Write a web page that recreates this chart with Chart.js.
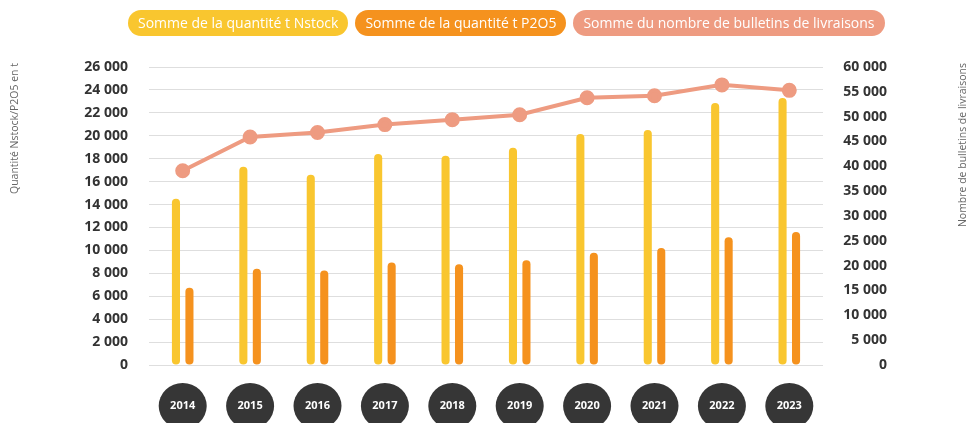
<!DOCTYPE html>
<html lang="fr">
<head>
<meta charset="utf-8">
<script src="https://cdn.jsdelivr.net/npm/chart.js@4"></script>
<style>
  html, body { margin: 0; padding: 0; background: #fff; }
  #zone { position: relative; width: 970px; height: 423px; }
  #legende { position: absolute; left: 128px; top: 10px; display: flex; gap: 7px; }
  .pastille {
    font-family: "Open Sans", sans-serif; font-size: 14px; color: #fff;
    height: 26px; line-height: 26px; padding: 0 10px; border-radius: 13px; white-space: nowrap;
  }
</style>
</head>
<body>
<div id="zone">
  <canvas id="graphique" width="970" height="423"></canvas>
  <div id="legende"></div>
</div>
<script>
const annees = ['2014', '2015', '2016', '2017', '2018', '2019', '2020', '2021', '2022', '2023'];
const quantiteNstock = [14500, 17300, 16600, 18400, 18250, 18950, 20150, 20500, 22850, 23300];
const quantiteP2O5 = [6750, 8400, 8250, 8950, 8800, 9150, 9800, 10200, 11150, 11600];
const nombreBulletins = [39100, 45900, 46800, 48400, 49400, 50400, 53800, 54200, 56400, 55300];

const titreGauche = 'Quantité Nstock/P2O5 en t';
const titreDroite = 'Nombre de bulletins de livraisons';

const milliers = v => String(v).replace(/\B(?=(\d{3})+(?!\d))/g, ' ');

// pastilles sombres sous les années + titres des axes
const decor = {
  id: 'decor',
  beforeDraw(chart) {
    const ctx = chart.ctx;
    const x = chart.scales.x;
    ctx.save();
    ctx.fillStyle = '#363636';
    x.ticks.forEach((t, i) => {
      ctx.beginPath();
      ctx.ellipse(x.getPixelForTick(i), 406, 24, 23, 0, 0, Math.PI * 2);
      ctx.fill();
    });
    ctx.restore();
  },
  afterDraw(chart) {
    const ctx = chart.ctx;
    ctx.save();
    ctx.font = '10.5px "Open Sans", sans-serif';
    ctx.fillStyle = '#666';
    ctx.textAlign = 'right';
    ctx.textBaseline = 'middle';
    [[15, titreGauche], [963, titreDroite]].forEach(([px, txt]) => {
      ctx.save();
      ctx.translate(px, 63);
      ctx.rotate(-Math.PI / 2);
      ctx.fillText(txt, 0, 0);
      ctx.restore();
    });
    ctx.restore();
  }
};

const ctx = document.getElementById('graphique').getContext('2d');
const chart = new Chart(ctx, {
  type: 'bar',
  data: {
    labels: annees,
    datasets: [{
      type: 'line',
      label: 'Somme du nombre de bulletins de livraisons',
      data: nombreBulletins,
      yAxisID: 'y1',
      borderColor: '#ee9b81',
      backgroundColor: '#ee9b81',
      borderWidth: 4,
      pointRadius: 5.5,
      pointHoverRadius: 5.5,
      tension: 0,
      order: 0
    }, {
      label: 'Somme de la quantité t Nstock',
      data: quantiteNstock,
      yAxisID: 'y',
      backgroundColor: '#f9c62f',
      borderRadius: 4,
      borderSkipped: false,
      order: 1
    }, {
      label: 'Somme de la quantité t P2O5',
      data: quantiteP2O5,
      yAxisID: 'y',
      backgroundColor: '#f5921e',
      borderRadius: 4,
      borderSkipped: false,
      order: 1
    }]
  },
  options: {
    responsive: false,
    animation: false,
    devicePixelRatio: 1,
    layout: { padding: { top: 67, left: 80, right: 83, bottom: 0 } },
    datasets: { bar: { categoryPercentage: 0.4, barPercentage: 0.6 } },
    scales: {
      x: {
        grid: { display: false, drawTicks: false },
        border: { display: false },
        ticks: { color: '#fff', padding: 34, font: { family: 'Open Sans', size: 11, weight: 'bold' } },
        afterFit: s => { s.height = 58; }
      },
      y: {
        position: 'left',
        min: 0,
        max: 26000,
        grid: { color: '#dedede', lineWidth: 1, drawTicks: false },
        border: { display: false },
        ticks: {
          stepSize: 2000,
          padding: 21,
          color: '#333',
          font: { family: 'Open Sans', size: 14, weight: 'bold' },
          callback: v => milliers(v)
        },
        afterFit: s => { s.width = 69; }
      },
      y1: {
        position: 'right',
        min: 0,
        max: 60000,
        grid: { display: false, drawTicks: false },
        border: { display: false },
        ticks: {
          stepSize: 5000,
          padding: 16,
          crossAlign: 'far',
          color: '#333',
          font: { family: 'Open Sans', size: 14, weight: 'bold' },
          callback: v => milliers(v)
        },
        afterFit: s => { s.width = 64; }
      }
    },
    plugins: {
      legend: { display: false },
      tooltip: { enabled: false }
    }
  },
  plugins: [decor]
});

// légende en pastilles, dans l'ordre du graphique d'origine
const legende = document.getElementById('legende');
[1, 2, 0].forEach(i => {
  const ds = chart.data.datasets[i];
  const span = document.createElement('span');
  span.className = 'pastille';
  span.style.background = ds.backgroundColor;
  span.textContent = ds.label;
  legende.appendChild(span);
});
</script>
</body>
</html>
